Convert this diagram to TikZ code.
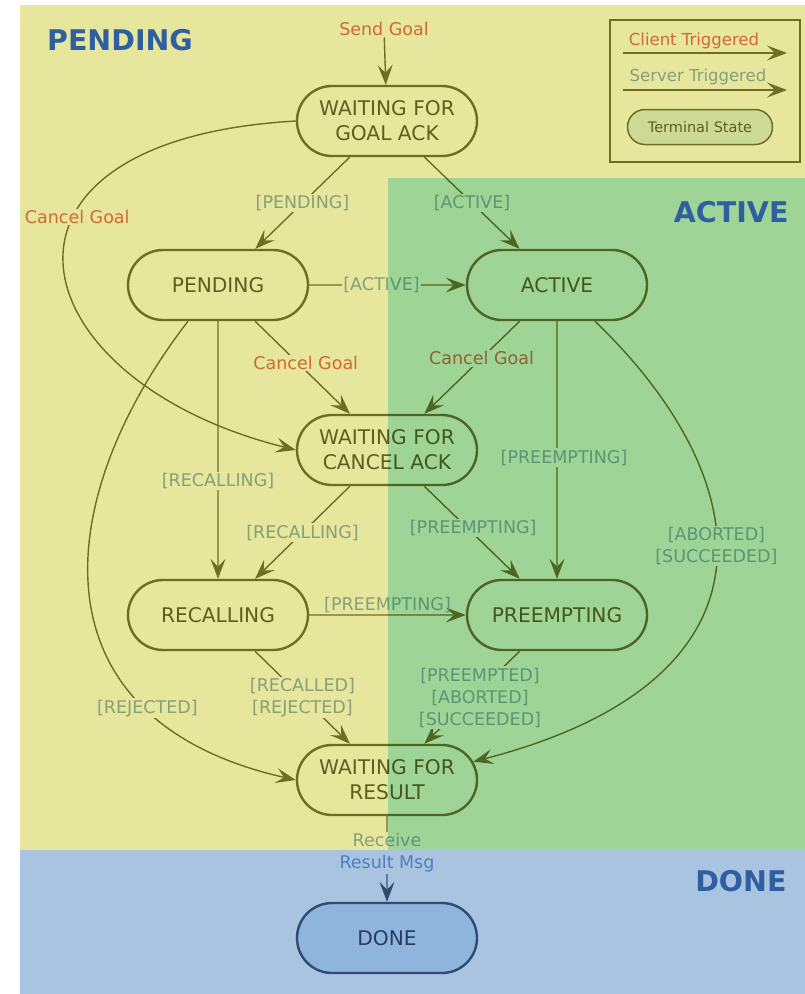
\documentclass[tikz,border=0pt]{standalone}
\usepackage{fontspec}
\setmainfont{DejaVu Sans}
\usepackage{xcolor}
\usepackage{tikz}
\usetikzlibrary{arrows.meta, positioning, shapes.misc}

\definecolor{pendbg}{RGB}{230,230,156}
\definecolor{actmul}{RGB}{177,236,247}
\definecolor{donebg}{RGB}{168,196,224}
\definecolor{olivel}{RGB}{110,110,35}
\definecolor{olivet}{RGB}{95,95,30}
\definecolor{clientc}{RGB}{208,105,55}
\definecolor{serverc}{RGB}{135,160,120}
\definecolor{headc}{RGB}{47,95,160}
\definecolor{navyl}{RGB}{45,75,115}
\definecolor{donetext}{RGB}{40,60,95}
\definecolor{donefill}{RGB}{143,181,221}
\definecolor{msgc}{RGB}{80,125,190}
\definecolor{termfill}{RGB}{205,218,150}

\tikzset{
  state/.style={rounded rectangle, draw=olivel, line width=2.4pt, text=olivet,
    minimum width=180pt, minimum height=70pt, inner sep=0pt, align=center,
    font=\fontsize{20.2}{25}\selectfont},
  trans/.style={draw=olivel, line width=1.4pt,
    -{Stealth[length=20pt, width=15pt, inset=8pt]}},
  srv/.style={text=serverc, fill=pendbg, inner sep=1.5pt, align=center,
    font=\fontsize{17.5}{22}\selectfont},
  cli/.style={srv, text=clientc},
  region/.style={font=\fontsize{28.5}{34}\selectfont\bfseries, text=headc},
}

\begin{document}
\begin{tikzpicture}[x=1pt, y=-1pt, on grid]
    \useasboundingbox (0,0) rectangle (805,994);
    \fill[pendbg] (20,5) rectangle (805,850);
    \fill[donebg] (20,850) rectangle (805,994);

    \node[state] (goalack) at (387,121) {WAITING FOR\\GOAL ACK};
    \node[state] (pending) [below left=164pt and 169pt of goalack] {PENDING};
    \node[state] (active) [below right=164pt and 170pt of goalack] {ACTIVE};
    \node[state] (cancelack) [below=329pt of goalack] {WAITING FOR\\CANCEL ACK};
    \node[state] (recalling) [below=330pt of pending] {RECALLING};
    \node[state] (preempting) [below=330pt of active] {PREEMPTING};
    \node[state] (result) [below=330pt of cancelack] {WAITING FOR\\RESULT};
    \node[state, fill=donefill, draw=navyl, text=donetext] (done) [below=158pt of result] {DONE};

    \node[cli, fill=none] (send) at (384,29) {Send Goal};
    \draw[trans] (send) -- (goalack);
    \draw[trans] (goalack) -- node[srv] {[PENDING]} (pending);
    \draw[trans] (goalack) -- node[srv] {[ACTIVE]} (active);
    \draw[trans] (pending) -- node[srv, xshift=-6pt] {[ACTIVE]} (active);
    \draw[trans] (goalack.west) .. controls (-40,140) and (15,380) .. node[cli, pos=.38, xshift=4pt] {Cancel Goal} (cancelack.west);
    \draw[trans] (pending) -- node[cli, pos=.45, xshift=8pt] {Cancel Goal} (cancelack);
    \draw[trans] (active) -- node[cli, pos=.4] {Cancel Goal} (cancelack);
    \draw[trans] (pending) -- node[srv, pos=.62] {[RECALLING]} (recalling);
    \draw[trans] (cancelack) -- node[srv] {[RECALLING]} (recalling);
    \draw[trans] (cancelack) -- node[srv, pos=.45, xshift=6pt] {[PREEMPTING]} (preempting);
    \draw[trans] (active) -- node[srv, pos=.53, xshift=7pt] {[PREEMPTING]} (preempting);
    \draw[trans] (recalling) -- node[srv, above, fill=none] {[PREEMPTING]} (preempting);
    \draw[trans] ([xshift=-30pt]pending.south) .. controls (50,500) and (30,720) .. node[srv, pos=.75] {[REJECTED]} (result.west);
    \draw[trans] ([xshift=38pt]active.south) .. controls (760,480) and (790,680) .. node[srv, pos=.45] {[ABORTED]\\{}[SUCCEEDED]} (result.12);
    \draw[trans] (recalling) -- node[srv] {[RECALLED]\\{}[REJECTED]} (result);
    \draw[trans] (preempting) -- node[srv, xshift=8pt] {[PREEMPTED]\\{}[ABORTED]\\{}[SUCCEEDED]} (result);

    \node[srv, fill=none] (recv) [below=73pt of result] {Receive\\\textcolor{msgc}{Result Msg}};
    \draw[olivel, line width=1.4pt] (result) -- (recv);
    \draw[draw=navyl!60!donebg, line width=1.4pt, -{Stealth[length=20pt, width=15pt, inset=8pt, color=navyl]}] (recv) -- (done);

    % active region drawn over the states
    \begin{scope}[blend mode=multiply]
        \fill[actmul] (388,178) rectangle (805,850);
    \end{scope}

    \node[region] (pendhead) at (120,40) {PENDING};
    \node[region, anchor=east] (acthead) at (792,212) {ACTIVE};
    \node[region, anchor=east] (donehead) at (790,881) {DONE};

    % legend
    \draw[olivel, line width=1.5pt] (610,20) rectangle (800,162);
    \node[cli, fill=none, font=\fontsize{16.5}{20}\selectfont] (clientkey) at (694,41) {Client Triggered};
    \coordinate (ck1) at (623,53);
    \coordinate (ck2) at (787,53);
    \draw[trans, line width=2pt] (ck1) -- (ck2);
    \node[srv, fill=none, font=\fontsize{16.5}{20}\selectfont] (serverkey) at (698,77) {Server Triggered};
    \coordinate (sk1) at (623,90);
    \coordinate (sk2) at (787,90);
    \draw[trans, line width=2pt] (sk1) -- (sk2);
    \node[state, fill=termfill, minimum width=145pt, minimum height=35pt, line width=1.5pt,
        font=\fontsize{14.5}{17}\selectfont] (terminal) at (700,127) {Terminal State};
\end{tikzpicture}
\end{document}
